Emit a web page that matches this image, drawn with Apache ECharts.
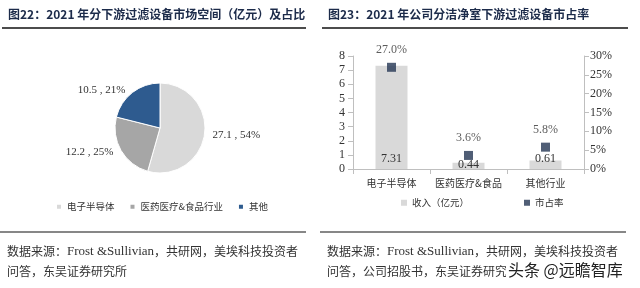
<!DOCTYPE html>
<html><head><meta charset="utf-8">
<script src="https://cdn.jsdelivr.net/npm/echarts@6/dist/echarts.min.js"></script>
<style>html,body{margin:0;padding:0;background:#fff}#c{width:640px;height:288px}</style>
</head><body><div id="c"></div>
<script>
const pieNames = ['电子半导体', '医药医疗&食品行业', '其他'];
const pieValues = [27.1, 12.2, 10.5];
const piePercents = [54, 25, 21];
const barCats = ['电子半导体', '医药医疗&食品', '其他行业'];
const revenue = [7.31, 0.44, 0.61];
const share = [27.0, 3.6, 5.8];
const leftTicks = [0, 8, 1];
const rightTicks = [0, 30, 5];

const serif = '"Liberation Serif","Times New Roman",serif';
const cjk = '"Noto Sans CJK SC",sans-serif';
const pieColors = ['#d9d9d9', '#a6a6a6', '#2e5b8f'];

function srcText(left, top, parts) {
  return {type: 'text', left: left, top: top, style: {
    text: parts, font: '12px ' + cjk, fill: '#333',
    rich: {s: {fontFamily: serif, fontSize: 13, fill: '#333'}}
  }};
}

const chart = echarts.init(document.getElementById('c'));
chart.setOption({
  animation: false,
  backgroundColor: '#fff',
  graphic: [
    {type: 'text', left: 8, top: 8, style: {text: '图22：2021 年分下游过滤设备市场空间（亿元）及占比', font: 'bold 12px ' + cjk, fill: '#1c2b4a'}},
    {type: 'text', left: 328, top: 8, style: {text: '图23：2021 年公司分洁净室下游过滤设备市占率', font: 'bold 12px ' + cjk, fill: '#1c2b4a'}},
    {type: 'line', shape: {x1: 2, y1: 28, x2: 306, y2: 28}, style: {stroke: '#111', lineWidth: 1.5}},
    {type: 'line', shape: {x1: 322, y1: 28, x2: 628, y2: 28}, style: {stroke: '#111', lineWidth: 1.5}},
    {type: 'line', shape: {x1: 0, y1: 232, x2: 306, y2: 232}, style: {stroke: '#111', lineWidth: 1.2}},
    {type: 'line', shape: {x1: 320, y1: 232, x2: 626, y2: 232}, style: {stroke: '#111', lineWidth: 1.2}},
    srcText(7, 245, '数据来源：{s|Frost &Sullivian}，共研网，美埃科技投资者'),
    srcText(7, 265, '问答，东吴证券研究所'),
    srcText(327, 245, '数据来源：{s|Frost &Sullivian}，共研网，美埃科技投资者'),
    srcText(327, 265, '问答，公司招股书，东吴证券研究所'),
    {type: 'rect', z: 99, shape: {x: 506, y: 262, width: 130, height: 22}, style: {fill: '#fff'}},
    {type: 'text', left: 508, top: 262, z: 100, style: {text: '头条 @远瞻智库', font: '16px ' + cjk, fill: '#222'}}
  ],
  legend: [
    {data: pieNames, left: 50, top: 197, itemWidth: 6, itemHeight: 6, itemGap: 14, icon: 'rect',
     textStyle: {fontFamily: cjk, fontSize: 9.5, color: '#333'}},
    {data: ['收入（亿元）', '市占率'], left: 396, top: 193, itemWidth: 6, itemHeight: 6, itemGap: 55, icon: 'rect',
     textStyle: {fontFamily: cjk, fontSize: 9.5, color: '#333'}}
  ],
  grid: {left: 353, right: 56, top: 56, bottom: 119},
  xAxis: {
    type: 'category', data: barCats,
    axisLine: {lineStyle: {color: '#bfbfbf'}},
    axisTick: {show: true, lineStyle: {color: '#bfbfbf'}},
    axisLabel: {interval: 0, fontFamily: cjk, fontSize: 10, color: '#333', margin: 9}
  },
  yAxis: [
    {type: 'value', min: leftTicks[0], max: leftTicks[1], interval: leftTicks[2],
     axisLine: {show: true, lineStyle: {color: '#bfbfbf'}}, axisTick: {show: true, lineStyle: {color: '#bfbfbf'}},
     splitLine: {show: false}, axisLabel: {fontFamily: serif, fontSize: 12, color: '#333', margin: 8}},
    {type: 'value', min: rightTicks[0], max: rightTicks[1], interval: rightTicks[2], position: 'right',
     axisLine: {show: true, lineStyle: {color: '#bfbfbf'}}, axisTick: {show: true, lineStyle: {color: '#bfbfbf'}},
     splitLine: {show: false}, axisLabel: {fontFamily: serif, fontSize: 12, color: '#333', margin: 6, formatter: '{value}%'}}
  ],
  series: [
    {
      type: 'pie', name: 'pie', center: [160, 128], radius: 45, startAngle: 90, clockwise: true,
      data: pieNames.map((n, i) => ({name: n, value: pieValues[i], itemStyle: {color: pieColors[i]}})),
      itemStyle: {borderColor: '#fff', borderWidth: 1},
      label: {show: true, position: 'outside', fontFamily: serif, fontSize: 11, color: '#333',
        formatter: p => pieValues[p.dataIndex] + ' , ' + piePercents[p.dataIndex] + '%'},
      labelLine: {show: false, length: 3, length2: 0}
    },
    {
      type: 'bar', name: '收入（亿元）', barWidth: 32, itemStyle: {color: '#d9d9d9'},
      data: revenue.map((v, i) => i === 1 ? {value: v, label: {offset: [0, 6]}} : v),
      label: {show: true, position: 'insideBottom', distance: 4, fontFamily: serif, fontSize: 12, color: '#333'}
    },
    {
      type: 'scatter', name: '市占率', yAxisIndex: 1, data: share, symbol: 'rect', symbolSize: 9,
      itemStyle: {color: '#243654'},
      label: {show: true, position: 'top', distance: 7, fontFamily: serif, fontSize: 12, color: '#333',
        formatter: p => p.value.toFixed(1) + '%'}
    }
  ]
});
</script></body></html>
